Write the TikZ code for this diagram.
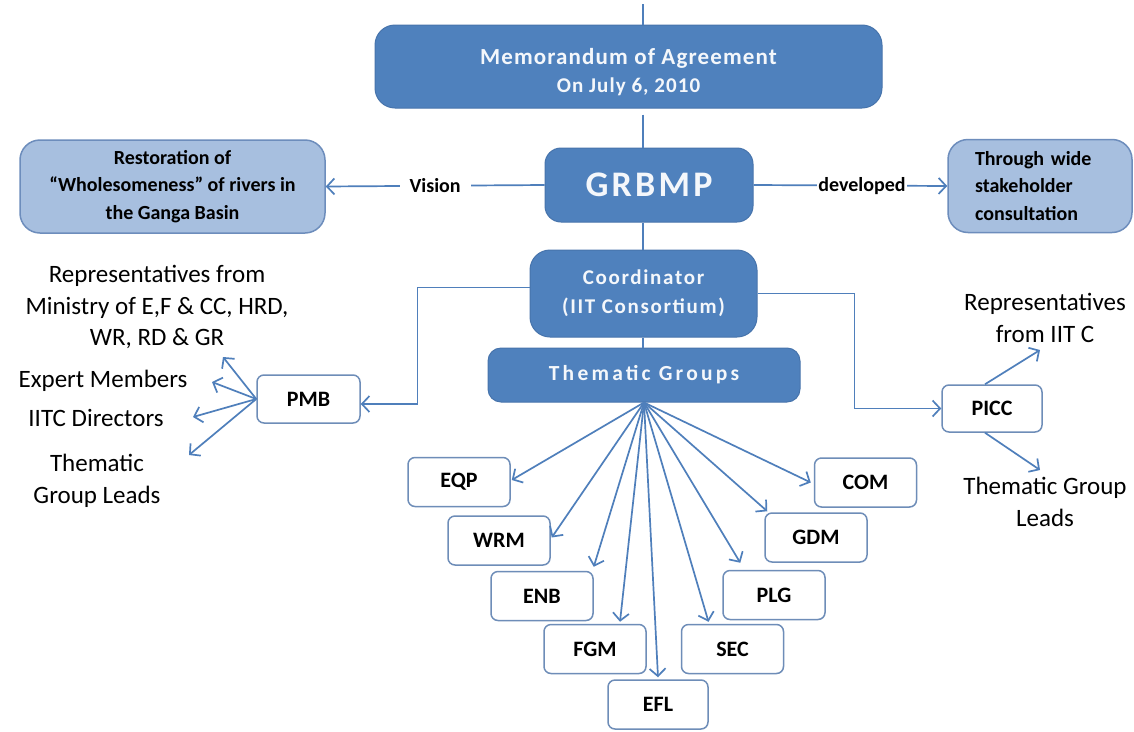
\documentclass[tikz,border=0pt]{standalone}
\usepackage{fontspec}
\setmainfont{Carlito}
\newfontfamily\lsA[LetterSpace=5]{Carlito}
\newfontfamily\lsB[LetterSpace=9]{Carlito}
\newfontfamily\lsC[LetterSpace=8]{Carlito}
\newfontfamily\lsD[LetterSpace=15]{Carlito}
\usetikzlibrary{arrows.meta,calc}
\definecolor{dk}{HTML}{4F81BD}
\definecolor{dkb}{HTML}{4774AC}
\definecolor{ln}{HTML}{4F7FBB}
\definecolor{lt}{HTML}{A7BFDF}
\definecolor{ltb}{HTML}{6D8DBC}
\definecolor{sb}{HTML}{6E8DB8}
\definecolor{wt}{HTML}{F4F7FB}
\tikzset{
  darkbox/.style={fill=dk, draw=dkb, line width=1pt, text=wt, align=center, inner sep=0pt},
  lightbox/.style={fill=lt, draw=ltb, line width=1.5pt, rounded corners=20pt, align=center, inner sep=0pt,
    font=\bfseries\fontsize{20}{27.5}\selectfont},
  smallbox/.style={fill=white, draw=sb, line width=1.5pt, rounded corners=7pt, minimum width=102pt,
    minimum height=49pt, inner sep=0pt, font=\bfseries\fontsize{22}{26}\selectfont},
  conn/.style={draw=ln, line width=1.7pt},
  arr/.style={conn, -{Straight Barb[length=7.5pt,width=16pt,line width=1.7pt]}},
  lbl/.style={fill=white, inner ysep=2pt, font=\bfseries\fontsize{20}{24}\selectfont},
  side/.style={align=center, inner sep=0pt, font=\fontsize{25}{31.5}\selectfont}
}
\begin{document}
\begin{tikzpicture}[x=1pt,y=-1pt]
\useasboundingbox[fill=white] (0,0) rectangle (1134,731);
% main chain
\coordinate (top) at (643,4);
\node[darkbox, minimum width=507pt, minimum height=83pt, rounded corners=20pt,
  font=\lsA\bfseries\fontsize{23}{28}\selectfont] (memo) at (628.5,66.5)
  {\rule{0pt}{28pt}Memorandum of Agreement\\{\lsA\bfseries\fontsize{21}{24}\selectfont On July 6, 2010}};
\node[darkbox, minimum width=208pt, minimum height=74pt, rounded corners=16pt,
  font=\lsB\bfseries\fontsize{36}{40}\selectfont] (grb) at (649,185) {GRBMP};
\node[darkbox, minimum width=227pt, minimum height=87pt, rounded corners=20pt,
  font=\lsC\bfseries\fontsize{21}{29}\selectfont] (coord) at (643.5,293.5)
  {Coordinator\\(IIT Consortium)};
\node[darkbox, minimum width=312pt, minimum height=54pt, rounded corners=13pt,
  font=\lsD\bfseries\fontsize{21.5}{26}\selectfont] (tg) at (644,375) {Thematic Groups};
\draw[conn] (top) -- (top |- memo.north);
\draw[conn] ([yshift=-6pt]top |- memo.south) -- (top |- grb.north);
\draw[conn] (top |- grb.south) -- (top |- coord.north);
\draw[conn] (top |- coord.south) -- (top |- tg.north);
% side boxes
\node[lightbox, minimum width=305pt, minimum height=93pt] (rest) at (172.5,186.5)
  {Restoration of\\``Wholesomeness'' of rivers in\\the Ganga Basin};
\node[lightbox, minimum width=184pt, minimum height=93pt, text width=130pt, align=left] (thr) at (1040,186)
  {Through wide\\stakeholder\\consultation};
\draw[arr] (grb.west) -- (rest.east) node[lbl, midway, inner xsep=10pt] {Vision};
\draw[arr] (grb.east) -- (thr.west) node[lbl, pos=0.56, inner xsep=1pt] {developed};
% PMB
\node[smallbox, minimum width=103pt, minimum height=48pt] (pmb) at (308.5,399) {PMB};
\draw[arr] ([yshift=6pt]coord.west) -- ++(-112,0) |- ([yshift=-5pt]pmb.east);
\node[side] (rep) at (157,307) {Representatives from\\Ministry of E,F \& CC, HRD,\\WR, RD \& GR};
\node[side] (exp) at (103,381) {Expert Members};
\node[side] (iitc) at (96,418) {IITC Directors};
\node[side] (tgl) at (97,481) {Thematic\\Group Leads};
\coordinate (p1) at (223,357);
\coordinate (p2) at (212,382);
\coordinate (p3) at (193,417);
\coordinate (p4) at (189,455);
\foreach \p in {p1,p2,p3,p4} \draw[arr] (pmb.west) -- (\p);
% PICC
\node[smallbox, minimum width=100pt, minimum height=47pt] (picc) at (992,408.5) {PICC};
\draw[arr] (coord.east) -- ++(97,0) |- (picc.west);
\node[side] (rep2) at (1045,318) {Representatives\\from IIT C};
\node[side] (tgl2) at (1045,502) {Thematic Group\\Leads};
\coordinate (q1) at (1040,350);
\coordinate (q2) at (1040,470);
\draw[arr] ([xshift=-7pt]picc.north) -- (q1);
\draw[arr] ([xshift=-7pt]picc.south) -- (q2);
% thematic group boxes
\node[smallbox] (eqp) at (459,482) {EQP};
\node[smallbox] (wrm) at (499,540.5) {WRM};
\node[smallbox] (enb) at (542,596) {ENB};
\node[smallbox] (fgm) at (595,649) {FGM};
\node[smallbox, minimum width=100pt] (efl) at (658,704.5) {EFL};
\node[smallbox] (sec) at (732.5,649) {SEC};
\node[smallbox] (plg) at (774,595) {PLG};
\node[smallbox] (gdm) at (816,537.5) {GDM};
\node[smallbox] (com) at (865.5,482.5) {COM};
\draw[arr] (tg.south) -- ([xshift=1pt,yshift=2pt]eqp.east);
\draw[arr] (tg.south) -- ([xshift=1pt,yshift=3pt]wrm.east);
\draw[arr] (tg.south) -- ([yshift=4pt]enb.north east);
\draw[arr] (tg.south) -- ([xshift=25pt,yshift=2pt]fgm.north);
\draw[arr] (tg.south) -- ([yshift=2pt]efl.north);
\draw[arr] (tg.south) -- ([xshift=-24pt,yshift=2pt]sec.north);
\draw[arr] (tg.south) -- ([xshift=18pt,yshift=7pt]plg.north west);
\draw[arr] (tg.south) -- ([xshift=3pt,yshift=1pt]gdm.north west);
\draw[arr] (tg.south) -- ([xshift=-3pt]com.west);
\end{tikzpicture}
\end{document}
